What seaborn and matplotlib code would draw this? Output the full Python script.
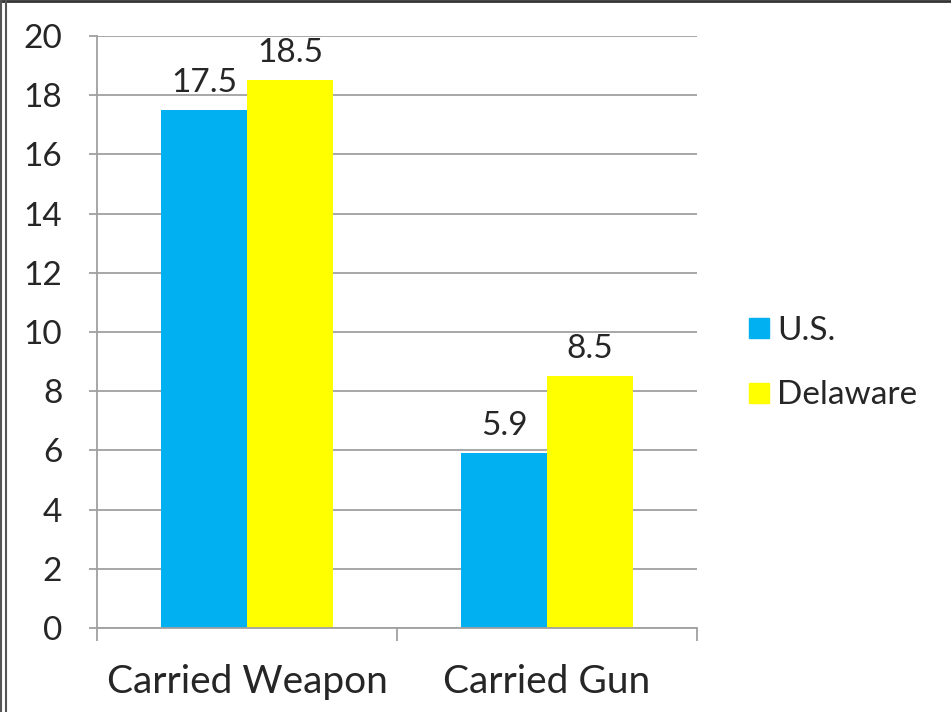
import pandas as pd
import matplotlib.pyplot as plt
import seaborn as sns
from matplotlib.lines import Line2D

categories = ['Carried Weapon', 'Carried Gun']
groups = ['U.S.', 'Delaware']
us_values = [17.5, 5.9]
delaware_values = [18.5, 8.5]
y_ticks = [0, 2, 4, 6, 8, 10, 12, 14, 16, 18, 20]

df = pd.DataFrame({
    'category': categories * 2,
    'group': [groups[0]] * 2 + [groups[1]] * 2,
    'value': us_values + delaware_values,
})

sns.set_style('white')
plt.rcParams['font.family'] = ['Lato', 'DejaVu Sans']

fig = plt.figure(figsize=(9.51, 7.12), dpi=100)
ax = fig.add_axes([97 / 951, 1 - 628 / 712, 600 / 951, 592 / 712])

palette = {'U.S.': '#00B0F0', 'Delaware': '#FFFF00'}
sns.barplot(data=df, x='category', y='value', hue='group', palette=palette,
            width=0.573, gap=0, saturation=1, linewidth=0, ax=ax, legend=False)

for c in ax.containers:
    ax.bar_label(c, fmt='%.1f', padding=9, fontsize=24)

grid_col = '#A0A0A0'
ax.set_ylim(0, 20)
ax.set_xlim(-0.5, 1.5)
ax.set_yticks(y_ticks)
ax.set_yticklabels([str(t) for t in y_ticks], fontsize=24)
ax.yaxis.grid(True, color=grid_col, linewidth=1.3)
ax.set_axisbelow(True)
ax.tick_params(axis='y', length=6, width=1.3, color=grid_col, pad=19, left=True)

# category labels on major ticks, boundary ticks on minor ticks
ax.set_xticks([0, 1])
ax.set_xticklabels(categories, fontsize=28)
ax.set_xticks([-0.5, 0.5, 1.5], minor=True)
ax.tick_params(axis='x', which='major', length=0, pad=26)
ax.tick_params(axis='x', which='minor', length=9, width=1.3, color=grid_col, bottom=True)
ax.set_xlabel('')
ax.set_ylabel('')

for side in ['top', 'right']:
    ax.spines[side].set_visible(False)
for side in ['left', 'bottom']:
    ax.spines[side].set_color(grid_col)
    ax.spines[side].set_linewidth(1.3)

handles = [Line2D([], [], marker='s', linestyle='', markersize=14,
                  markerfacecolor=palette[g], markeredgecolor=palette[g]) for g in groups]
fig.legend(handles, groups, loc='center left', bbox_to_anchor=(712 / 951, 1 - 363 / 712),
           frameon=False, fontsize=24, handletextpad=0.05, labelspacing=1.05,
           handlelength=1.0)

# outer frame (top line and double line on the left)
fig.add_artist(Line2D([0, 1], [0.999, 0.999], transform=fig.transFigure, color='#333333', linewidth=2))
fig.add_artist(Line2D([0.001, 0.001], [0, 1], transform=fig.transFigure, color='#555555', linewidth=1.5))
fig.add_artist(Line2D([6 / 951, 6 / 951], [0, 1], transform=fig.transFigure, color='#555555', linewidth=1.5))

fig.savefig('out.png', dpi=100)
